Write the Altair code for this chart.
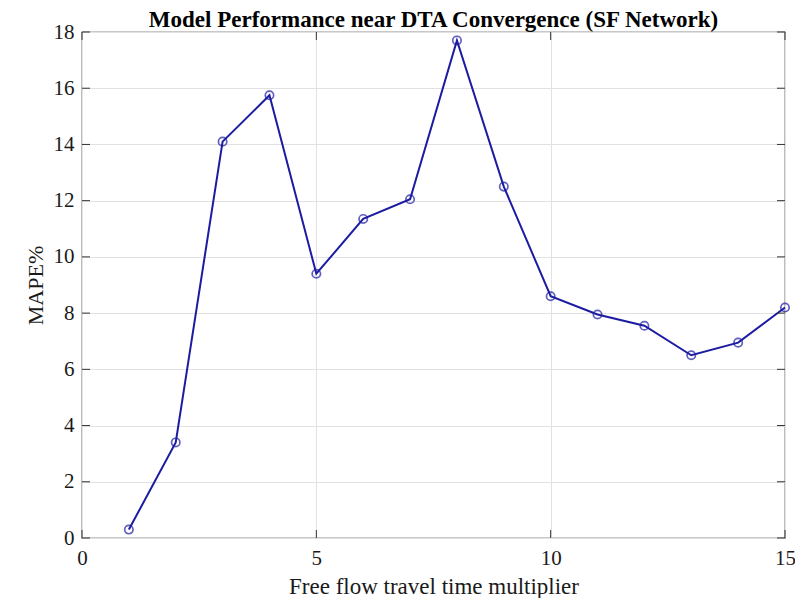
import altair as alt
import pandas as pd

multiplier = [1, 2, 3, 4, 5, 6, 7, 8, 9, 10, 11, 12, 13, 14, 15]
mape = [0.3, 3.4, 14.1, 15.75, 9.4, 11.35, 12.05, 17.7, 12.5, 8.6, 7.95, 7.55, 6.5, 6.95, 8.2]
y_ticks = [0, 2, 4, 6, 8, 10, 12, 14, 16, 18]
x_ticks = [0, 5, 10, 15]

df = pd.DataFrame({"x": multiplier, "y": mape})
df_yt = pd.DataFrame({"y": y_ticks})
df_xt = pd.DataFrame({"x": x_ticks})

FONT = "Liberation Serif"
LINE = "#1c1ca3"
TXT = "#1a1a1a"
W, H = 703, 506

xscale = alt.Scale(domain=[0, 15], nice=False)
yscale = alt.Scale(domain=[0, 18], nice=False)

base = alt.Chart(df)

line = base.mark_line(color=LINE, strokeWidth=2).encode(
    x=alt.X("x:Q", scale=xscale,
            axis=alt.Axis(values=x_ticks, title="Free flow travel time multiplier",
                          grid=True, gridColor="#e2e2e2", tickSize=0, domain=False,
                          labelFont=FONT, titleFont=FONT, labelColor=TXT, titleColor=TXT,
                          labelFontSize=21, titleFontSize=23, titleFontWeight="normal",
                          labelBaseline="middle", labelPadding=20,
                          titleBaseline="alphabetic", titleY=55, titleX=W / 2,
                          labelFlush=False)),
    y=alt.Y("y:Q", scale=yscale,
            axis=alt.Axis(values=y_ticks, title="MAPE%",
                          grid=True, gridColor="#e2e2e2", tickSize=0, domain=False,
                          labelFont=FONT, titleFont=FONT, labelColor=TXT, titleColor=TXT,
                          labelFontSize=21, titleFontSize=22, titleFontWeight="normal",
                          labelPadding=8, titleBaseline="alphabetic", titleX=-40, titleY=H / 2,
                          titleAngle=-90, labelFlush=False)),
)

points = base.mark_point(shape="circle", filled=False, color=LINE, size=70, strokeWidth=1.7).encode(
    x=alt.X("x:Q", scale=xscale), y=alt.Y("y:Q", scale=yscale)
)

tick_col = "#333333"
ytick_l = alt.Chart(df_yt).mark_rule(color=tick_col, strokeWidth=1).encode(
    y=alt.Y("y:Q", scale=yscale), x=alt.value(0), x2=alt.value(8))
ytick_r = alt.Chart(df_yt).mark_rule(color=tick_col, strokeWidth=1).encode(
    y=alt.Y("y:Q", scale=yscale), x=alt.value(W - 8), x2=alt.value(W))
xtick_b = alt.Chart(df_xt).mark_rule(color=tick_col, strokeWidth=1).encode(
    x=alt.X("x:Q", scale=xscale), y=alt.value(H - 8), y2=alt.value(H))
xtick_t = alt.Chart(df_xt).mark_rule(color=tick_col, strokeWidth=1).encode(
    x=alt.X("x:Q", scale=xscale), y=alt.value(0), y2=alt.value(8))

chart = alt.layer(line, points, ytick_l, ytick_r, xtick_b, xtick_t).properties(
    width=W, height=H,
    title=alt.TitleParams("Model Performance near DTA Convergence (SF Network)",
                          font=FONT, fontSize=23, fontWeight="bold", color="#000000",
                          anchor="middle", frame="group", offset=-11),
    autosize=alt.AutoSizeParams(type="none"),
    padding={"left": 74, "top": 24, "right": 10, "bottom": 60},
    background="white",
).configure_view(
    stroke="#262626", strokeWidth=1.2
)

chart.save("out.html", embed_options={"renderer": "svg", "actions": False})
